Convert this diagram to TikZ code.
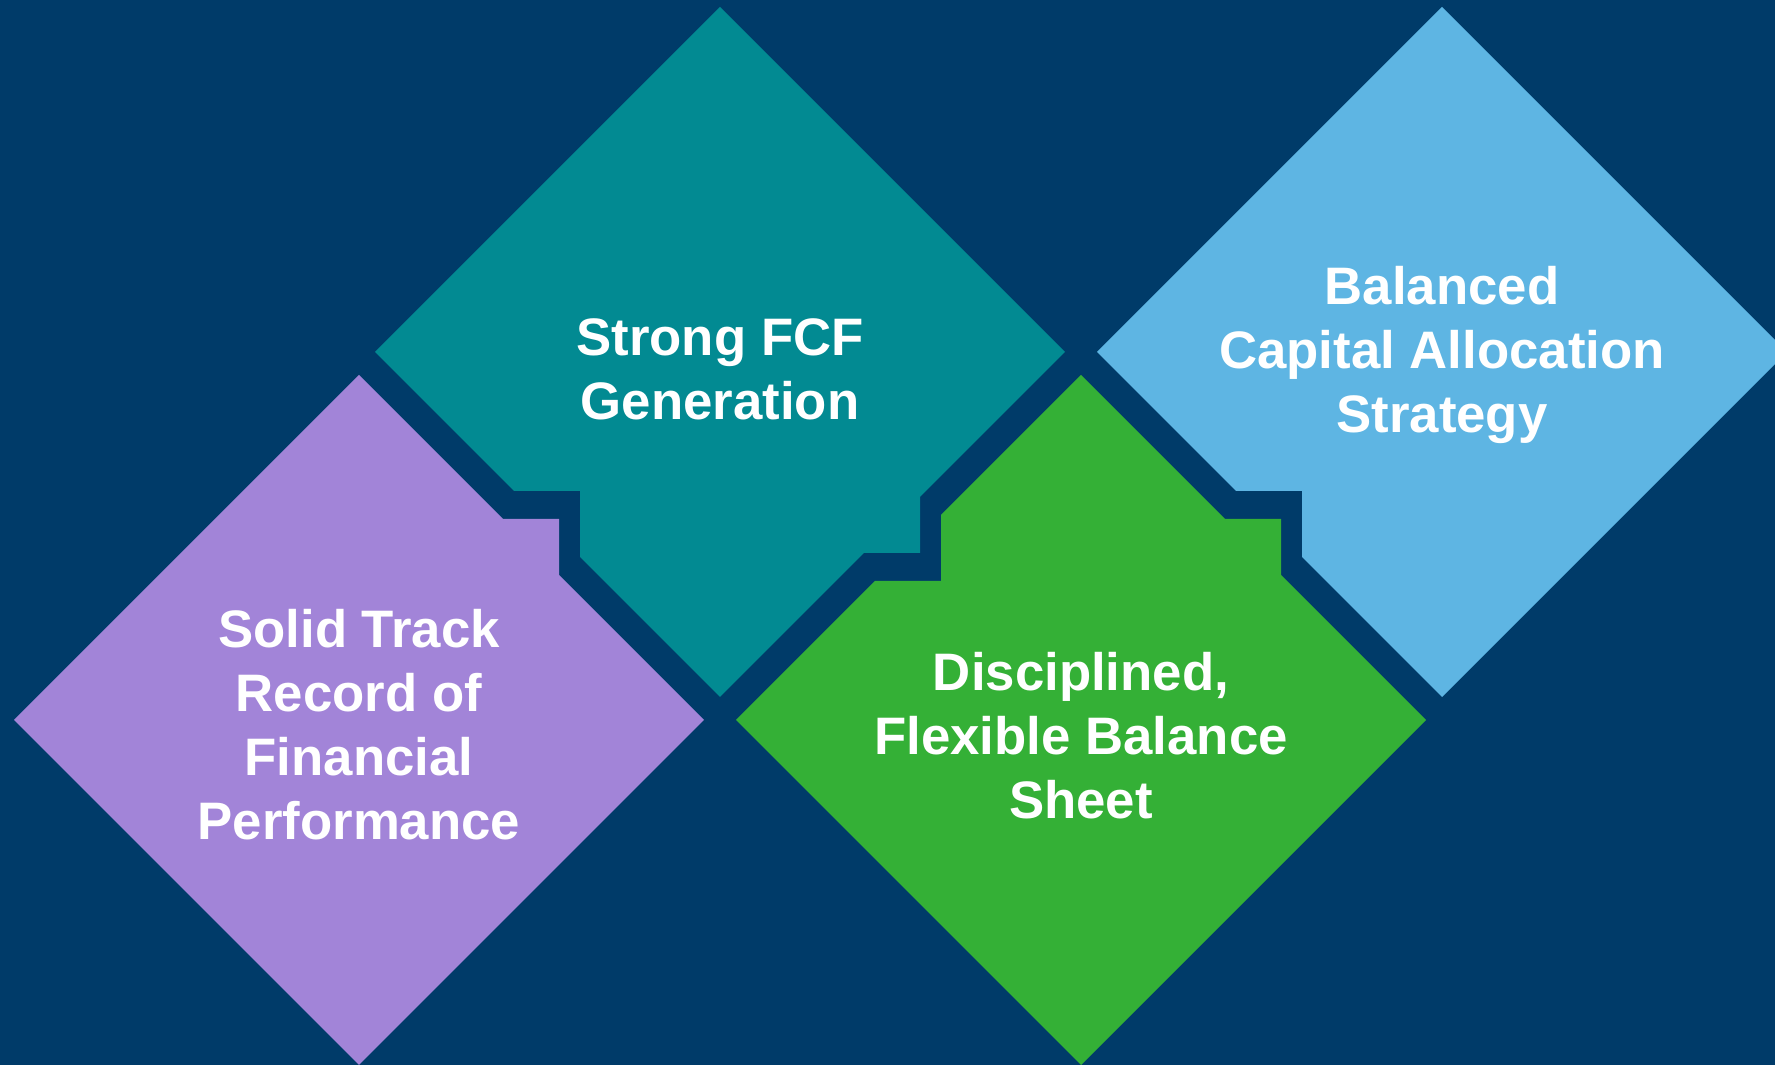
\documentclass[tikz,border=0pt]{standalone}
\usepackage{fontspec}
\setmainfont{Liberation Sans}
\definecolor{navy}{RGB}{0,59,105}
\definecolor{tealtile}{RGB}{2,138,146}
\definecolor{lilac}{RGB}{162,132,216}
\definecolor{greentile}{RGB}{52,176,54}
\definecolor{skytile}{RGB}{94,181,227}
\tikzset{
  tile text/.style={text=white, align=center, inner sep=0pt,
    font=\bfseries\fontsize{15}{18.2}\selectfont},
}
\begin{document}
\begin{tikzpicture}[x=0.01cm, y=-0.01cm]
\fill[navy] (0,0) rectangle (1775,1065);
\clip (0,0) rectangle (1775,1065);

% lilac tile, tab on upper right edge
\fill[lilac] (359,375) -- (503,519) -- (559,519) -- (559,575) -- (704,720) -- (359,1065) -- (14,720) -- cycle;
\node[tile text] (Track Record) at (359,725) {Solid Track\\Record of\\Financial\\Performance};

% teal tile, notch lower left, tab lower right
\fill[tealtile] (720,7) -- (1065,352) -- (920,497) -- (920,553) -- (864,553) -- (720,697) -- (580,557) -- (580,491) -- (514,491) -- (375,352) -- cycle;
\node[tile text] (Strong FCF) at (720,369) {Strong FCF\\Generation};

% green tile, notch upper left, tab upper right
\fill[greentile] (1081,375) -- (1225,519) -- (1281,519) -- (1281,575) -- (1426,720) -- (1081,1065) -- (736,720) -- (875,581) -- (941,581) -- (941,515) -- cycle;
\node[tile text] (Balance Sheet) at (1081,736) {Disciplined,\\Flexible Balance\\Sheet};

% sky tile, notch lower left
\fill[skytile] (1442,7) -- (1787,352) -- (1442,697) -- (1302,557) -- (1302,491) -- (1236,491) -- (1097,352) -- cycle;
\node[tile text] (Capital Allocation) at (1442,355) {Balanced\\Capital Allocation\\Strategy};
\end{tikzpicture}
\end{document}
